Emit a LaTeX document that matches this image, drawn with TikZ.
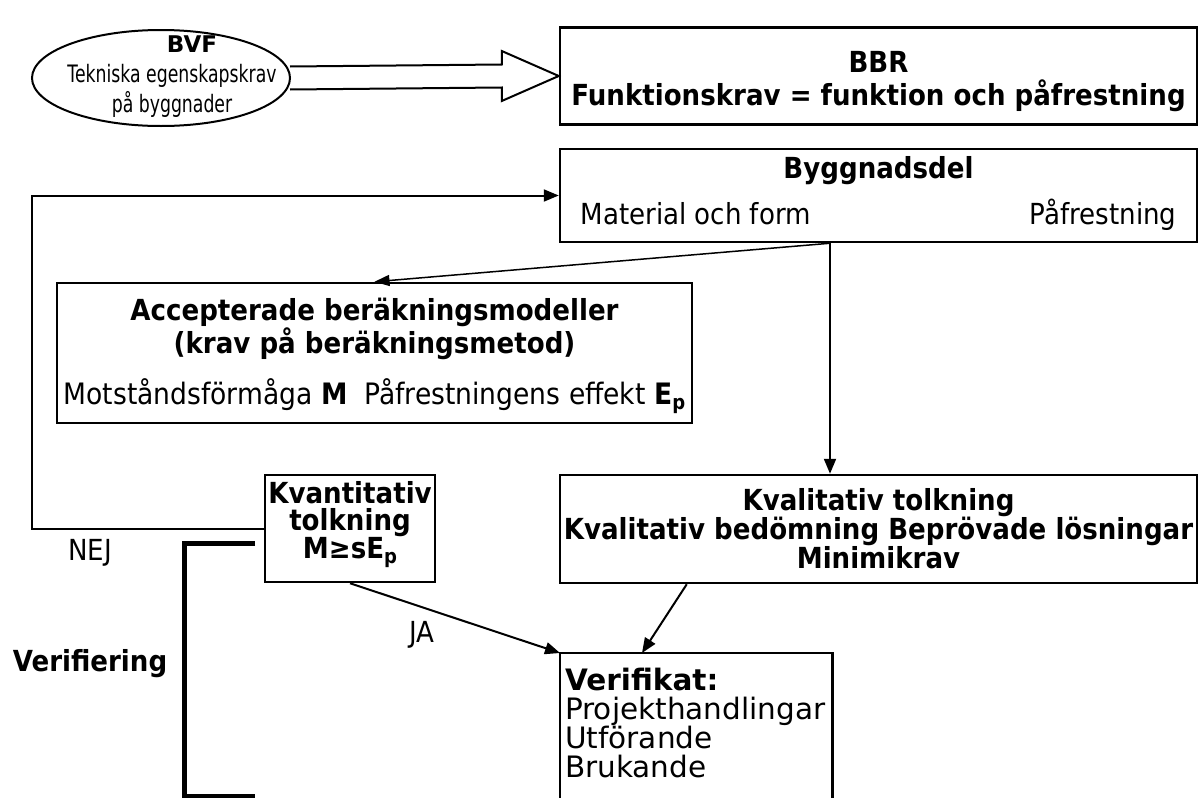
\documentclass[tikz,border=0pt]{standalone}
\usepackage{fontspec}
\setmainfont{DejaVu Sans}[FakeStretch=0.9]
\newfontfamily\widefont{DejaVu Sans}
\newfontfamily\ellfont{DejaVu Sans}[FakeStretch=0.72]
\usetikzlibrary{shapes.geometric,arrows.meta,calc}
\tikzset{
  box/.style={draw, line width=2.5pt, inner sep=0pt, align=center, font=\fontsize{29}{30}\selectfont\bfseries},
  conn/.style={line width=2pt, -{Triangle[length=15pt,width=12pt]}},
  thinconn/.style={line width=1.5pt, -{Triangle[length=15pt,width=11pt]}},
  lbl/.style={inner sep=0pt, font=\fontsize{29}{30}\selectfont}
}
\newcommand{\subp}{\raisebox{-0.28ex}{\fontsize{20}{20}\selectfont p}}
% #1 = vertical shift, #2 = width, #3 = centred lines
\newcommand{\shiftstack}[3]{\raisebox{#1}[\height][\depth]{\parbox{#2}{\centering #3}}}
\begin{document}
\begin{tikzpicture}[x=1pt,y=-1pt]
\useasboundingbox (0,0) rectangle (1200,798);
\coordinate (pagebottom) at (0,798);
% ellipse
\node[draw, ellipse, line width=2pt, minimum width=258pt, minimum height=96pt, inner sep=0pt] (bvf) at (161,78) {};
\node[align=center, inner sep=0pt, font=\fontsize{24}{30}\selectfont\ellfont] (bvftext) at ($(bvf.center)+(11,-1)$)
  {\hspace*{40pt}{\widefont\bfseries\fontsize{23}{30}\selectfont BVF}\\Tekniska egenskapskrav\\på byggnader};
% BBR
\node[box, minimum width=637pt, minimum height=97pt] (bbr) at (878.5,76)
  {\shiftstack{-6pt}{630pt}{BBR\\[3pt]Funktionskrav = funktion och påfrestning}};
% hollow arrow
\draw[line width=2pt, line join=miter]
  ($(bvf.east)+(-1,-11.5)$) -- ($(bbr.west)+(-57,-11.5)$) -- ($(bbr.west)+(-57,-25)$) -- (bbr.west)
  -- ($(bbr.west)+(-57,25)$) -- ($(bbr.west)+(-57,11.5)$) -- ($(bvf.east)+(-1,11.5)$);
% Byggnadsdel
\node[box, minimum width=637pt, minimum height=93pt, font=\fontsize{29}{30}\selectfont] (bygg) at (878.5,195.5)
  {\shiftstack{2pt}{596pt}{\textbf{Byggnadsdel}\\[13pt]Material och form\hfill Påfrestning}};
% Accepterade
\node[box, minimum width=635pt, minimum height=140pt, font=\fontsize{29}{27}\selectfont\bfseries] (acc) at (374.5,353)
  {\shiftstack{-3pt}{630pt}{Accepterade beräkningsmodeller\\(krav på beräkningsmetod)\\[18pt]
   \mdseries\fontsize{29.5}{27}\selectfont Motståndsförmåga \textbf{M}\ \ Påfrestningens effekt \textbf{E\subp}}};
% Kvantitativ
\node[box, minimum width=170pt, minimum height=107pt, font=\fontsize{29}{26.5}\selectfont\bfseries] (kvant) at (350,528.5)
  {\shiftstack{4pt}{168pt}{Kvantitativ\\tolkning\\M≥sE\subp}};
% Kvalitativ
\node[box, minimum width=637pt, minimum height=108pt, font=\fontsize{29}{29}\selectfont\bfseries] (kval) at (878.5,529)
  {Kvalitativ tolkning\\Kvalitativ bedömning Beprövade lösningar\\Minimikrav};
% Verifikat (open at the bottom)
\node[anchor=north west, inner xsep=5pt, inner ysep=15pt, text width=262pt, align=left,
  font=\fontsize{29.5}{29}\selectfont\widefont] (verif) at (560,653)
  {\textbf{Verifikat:}\\Projekthandlingar\\Utförande\\Brukande\par};
\draw[line width=2.5pt] (verif.north west |- pagebottom) -- (verif.north west) -- (verif.north east) -- (verif.north east |- pagebottom);
% connectors
\path (bygg.south) ++(-48.5,0) coordinate (split);
\draw[thinconn] (split) -- (acc.north);
\draw[conn] (split) -- (kval.north -| split);
\coordinate (fbx) at (32,0);
\draw[conn] (kvant.west) -| (fbx |- bygg.west) -- (bygg.west);
\draw[conn] (kvant.south) -- (verif.north west);
\draw[conn] ($(kval.south west)+(128,0)$) -- ($(verif.north west)+(82,0)$);
% labels
\node[lbl] (nej) at (90,553) {NEJ};
\node[lbl] (ja) at (422,635) {JA};
\node[lbl, font=\fontsize{29}{30}\selectfont\bfseries] (verifiering) at (90,664) {Verifiering};
% bracket
\draw[line width=5pt] (255,543) -- (184,543) -- (184,796) -- (255,796);
\end{tikzpicture}
\end{document}
